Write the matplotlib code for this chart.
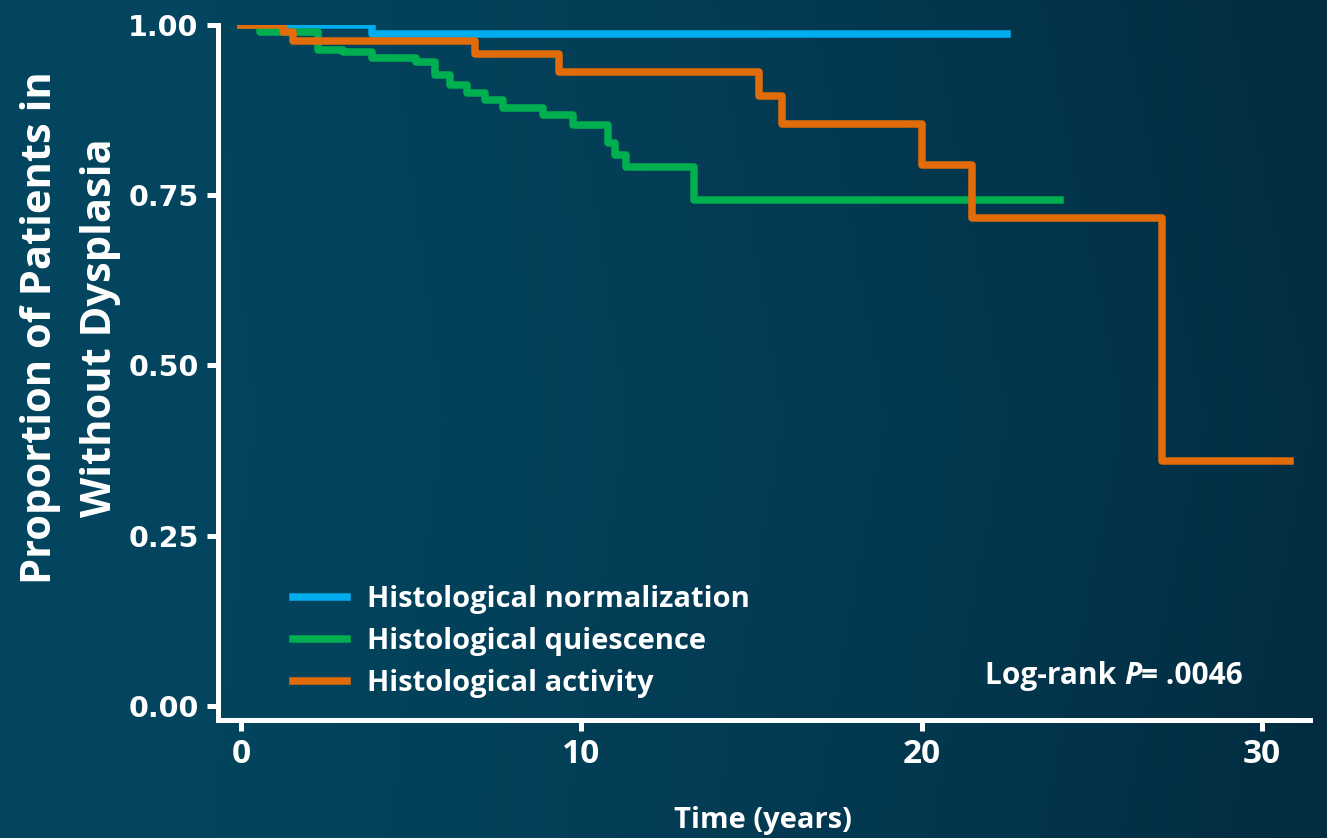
import numpy as np
import matplotlib
matplotlib.use("Agg")
import matplotlib.pyplot as plt

# ---- data ----
series_names = ["Histological normalization", "Histological quiescence", "Histological activity"]

norm_times = [0.0, 3.85, 22.5]
norm_surv = [1.0, 0.987, 0.987]

quies_times = [0.0, 0.56, 2.26, 3.0, 3.84, 5.14, 5.70, 6.14, 6.63, 7.17, 7.70, 8.88,
               9.76, 10.78, 10.99, 11.31, 13.31, 24.07]
quies_surv = [1.0, 0.989, 0.964, 0.961, 0.952, 0.946, 0.927, 0.912, 0.900, 0.890, 0.878,
              0.868, 0.853, 0.827, 0.809, 0.792, 0.743, 0.743]

act_times = [0.0, 1.24, 1.53, 6.88, 9.35, 15.22, 15.89, 20.0, 21.48, 27.06, 30.83]
act_surv = [1.0, 0.990, 0.977, 0.957, 0.931, 0.896, 0.854, 0.794, 0.716, 0.360, 0.360]

x_ticks = [0, 10, 20, 30]
y_ticks = [0.00, 0.25, 0.50, 0.75, 1.00]
y_tick_labels = ["0.00", "0.25", "0.50", "0.75", "1.00"]
p_text = ".0046"

colors = ["#00AEEF", "#00B050", "#E36C0A"]

W, H = 1327, 838
fig = plt.figure(figsize=(W / 100, H / 100), dpi=100)

# background gradient
bg = fig.add_axes([0, 0, 1, 1], zorder=-10)
gx = np.linspace(0, 1, 400)
gy = np.linspace(0, 1, 300)
X, Y = np.meshgrid(gx, gy)
c_left = np.array([4, 70, 96]) / 255
c_right = np.array([2, 44, 64]) / 255
t = np.clip(X ** 1.6 * 0.9 + 0.1 * (np.abs(Y - 0.5) * 2) * X, 0, 1)
img = c_left[None, None, :] * (1 - t[..., None]) + c_right[None, None, :] * t[..., None]
bg.imshow(img, aspect="auto", extent=[0, 1, 0, 1], origin="lower")
bg.axis("off")

# main axes
ax_l, ax_r, ax_t, ax_b = 218, 1310, 25, 720
ax = fig.add_axes([ax_l / W, (H - ax_b) / H, (ax_r - ax_l) / W, (ax_b - ax_t) / H])
ax.patch.set_alpha(0)

lw = 5.4
ax.step(norm_times, norm_surv, where="post", color=colors[0], lw=lw, solid_joinstyle="round")
ax.step(quies_times, quies_surv, where="post", color=colors[1], lw=lw, solid_joinstyle="round")
ax.step(act_times, act_surv, where="post", color=colors[2], lw=lw, solid_joinstyle="round")

ax.set_xlim(-0.675, 31.41)
ax.set_ylim(-0.0206, 1.0)

for s in ["top", "right"]:
    ax.spines[s].set_visible(False)
for s in ["left", "bottom"]:
    ax.spines[s].set_color("white")
    ax.spines[s].set_linewidth(3.6)
    ax.spines[s].set_capstyle("projecting")

ax.set_xticks(x_ticks)
ax.set_yticks(y_ticks)
ax.set_yticklabels(y_tick_labels)
ax.tick_params(axis="both", colors="white", width=3.6, length=8)
ax.tick_params(axis="x", pad=5)
ax.tick_params(axis="y", pad=6)
for lab in ax.get_yticklabels():
    lab.set_fontfamily("DejaVu Sans")
    lab.set_fontweight("bold")
    lab.set_fontsize(20.5)
    lab.set_color("white")
for lab in ax.get_xticklabels():
    lab.set_fontfamily("Open Sans")
    lab.set_fontweight("bold")
    lab.set_fontsize(24)
    lab.set_color("white")

# axis labels
fig.text(763 / W, 1 - 820 / H, "Time (years)", ha="center", va="center", color="white",
         fontsize=21, fontweight="bold", family="Open Sans")
fig.text(41 / W, 1 - 328 / H, "Proportion of Patients in", ha="center", va="center",
         rotation=90, color="white", fontsize=30, fontweight="bold", family="Open Sans")
fig.text(101 / W, 1 - 328 / H, "Without Dysplasia", ha="center", va="center",
         rotation=90, color="white", fontsize=30, fontweight="bold", family="Open Sans")

# legend
leg_fs = 21
leg = ax.legend(series_names, loc="lower left",
                bbox_to_anchor=((293 - ax_l) / (ax_r - ax_l), (ax_b - 698) / (ax_b - ax_t)),
                frameon=False, borderpad=0, borderaxespad=0, handlelength=1.85,
                handletextpad=0.68, labelspacing=0.44,
                prop={"family": "Open Sans", "weight": "bold", "size": leg_fs})
for txt in leg.get_texts():
    txt.set_color("white")

# log-rank annotation
fs_p = 21.5
t1 = fig.text(985 / W, 1 - 676 / H, "Log-rank ", ha="left", va="center", color="white",
              fontsize=fs_p, fontweight="bold", family="Open Sans")
t2 = ax.annotate("P", xy=(1, 0), xycoords=t1, ha="left", va="bottom", color="white",
                 fontsize=fs_p, fontweight="bold", fontstyle="italic", family="Open Sans")
t3 = ax.annotate("= " + p_text, xy=(1, 0), xycoords=t2, ha="left", va="bottom", color="white",
                 fontsize=fs_p, fontweight="bold", family="Open Sans")

fig.savefig("out.png", dpi=100)
